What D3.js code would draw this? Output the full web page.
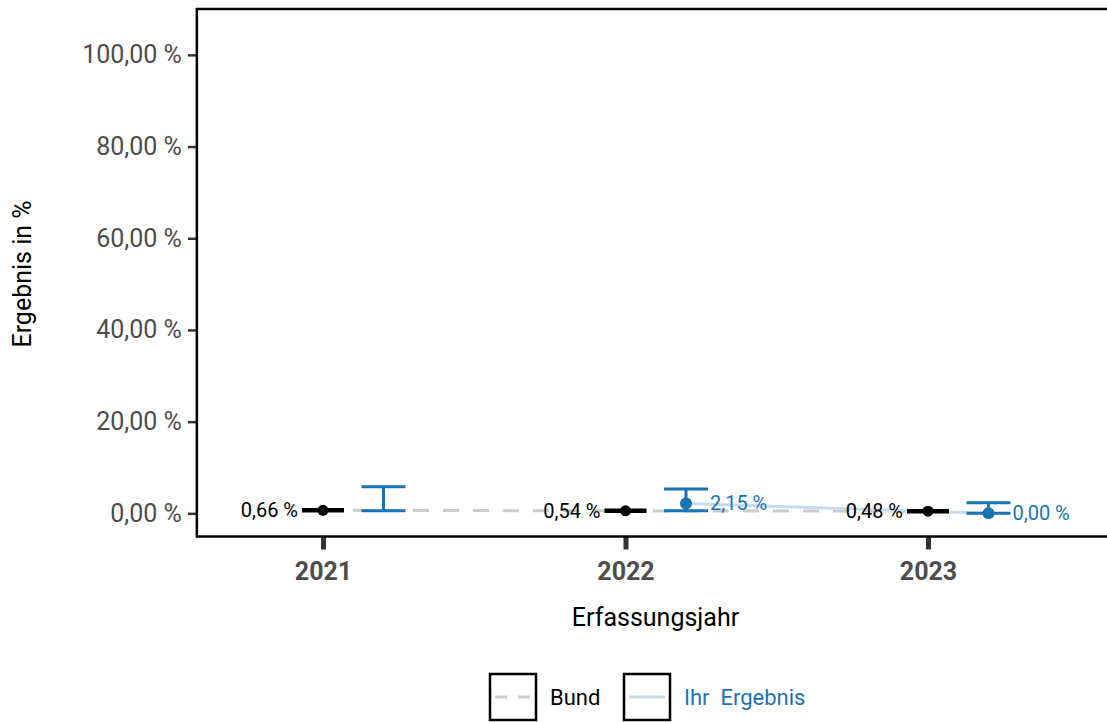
<!DOCTYPE html>
<html><head><meta charset="utf-8">
<script src="https://cdn.jsdelivr.net/npm/d3@7"></script>
<style>body{margin:0;background:#fff}svg{display:block;font-family:Roboto,"Noto Sans",sans-serif}</style>
</head><body><svg id="c" width="1107" height="722"></svg>
<script>
const years = [2021, 2022, 2023];
const bundValues = [0.66, 0.54, 0.48];
const ihrValues = [null, 2.15, 0.00];
const ihrLower = [0.57, 0.57, 0.0];
const ihrUpper = [5.8, 5.3, 2.3];
const yTicks = [0, 20, 40, 60, 80, 100];
const legendLabels = ["Bund", "Ihr  Ergebnis"];

const blue = "#1a73b5", lightBlue = "#c6dbef", grey = "#cccccc";
const fmtT = v => v.toFixed(2).replace(".", ",") + " %";

const svg = d3.select("#c");
const x = d3.scaleLinear().domain([2021, 2023]).range([323, 928]);
const y = d3.scaleLinear().domain([-5.05, 110]).range([536.5, 9]);
const dodge = 0.2;
const pLeft = x(2020.583), pRight = 1120, pTop = y(110), pBottom = y(-5.05);

// y axis
const ya = svg.append("g").attr("transform", `translate(${pLeft},0)`)
  .call(d3.axisLeft(y).tickValues(yTicks).tickFormat(fmtT).tickSize(9).tickPadding(6));
ya.select(".domain").remove();
ya.selectAll("line").attr("stroke", "#333").attr("stroke-width", 2.5);
ya.selectAll("text").attr("fill", "#4d4d4d").attr("font-size", 25).attr("font-family", "Roboto");

// x axis
const xa = svg.append("g").attr("transform", `translate(0,${pBottom})`)
  .call(d3.axisBottom(x).tickValues(years).tickFormat(d3.format("d")).tickSize(13).tickPadding(13));
xa.select(".domain").remove();
xa.selectAll("line").attr("stroke", "#333").attr("stroke-width", 5);
xa.selectAll("text").attr("fill", "#4d4d4d").attr("font-size", 25).attr("font-weight", "bold").attr("font-family", "Roboto");

// panel border
svg.append("path")
  .attr("d", `M${pRight},${pTop}H${pLeft}V${pBottom}H${pRight}`)
  .attr("fill", "none").attr("stroke", "#000").attr("stroke-width", 2.5);

// Bund dashed line
const bundPts = years.map((yr, i) => [x(yr), y(bundValues[i])]);
svg.append("path").attr("d", d3.line()(bundPts))
  .attr("fill", "none").attr("stroke", grey).attr("stroke-width", 3).attr("stroke-dasharray", "16,14");

// Ihr line
const ihrPts = years.map((yr, i) => ihrValues[i] == null ? null : [x(yr + dodge), y(ihrValues[i])]).filter(d => d);
svg.append("path").attr("d", d3.line()(ihrPts))
  .attr("fill", "none").attr("stroke", lightBlue).attr("stroke-width", 3);

// Bund segments
const segHalf = 21;
years.forEach((yr, i) => {
  const cx = x(yr), cy = y(bundValues[i]);
  svg.append("line").attr("x1", cx - segHalf).attr("x2", cx + segHalf).attr("y1", cy).attr("y2", cy)
    .attr("stroke", "#000").attr("stroke-width", 4.5);
  svg.append("circle").attr("cx", cx).attr("cy", cy).attr("r", 5.5).attr("fill", "#000");
  svg.append("text").attr("x", cx - segHalf - 4).attr("y", cy).attr("dy", "0.35em")
    .attr("text-anchor", "end").attr("font-size", 20).attr("fill", "#000").text(fmtT(bundValues[i]));
});

// Ihr error bars
const capHalf = 22;
years.forEach((yr, i) => {
  const cx = x(yr + dodge), yl = y(ihrLower[i]), yu = y(ihrUpper[i]);
  const g = svg.append("g").attr("stroke", blue).attr("stroke-width", 3);
  g.append("line").attr("x1", cx).attr("x2", cx).attr("y1", yl).attr("y2", yu);
  g.append("line").attr("x1", cx - capHalf).attr("x2", cx + capHalf).attr("y1", yl).attr("y2", yl);
  g.append("line").attr("x1", cx - capHalf).attr("x2", cx + capHalf).attr("y1", yu).attr("y2", yu);
  if (ihrValues[i] != null) {
    const cy = y(ihrValues[i]);
    svg.append("circle").attr("cx", cx).attr("cy", cy).attr("r", 6).attr("fill", blue);
    svg.append("text").attr("x", cx + capHalf + 2).attr("y", cy).attr("dy", "0.35em")
      .attr("font-size", 20).attr("fill", blue).text(fmtT(ihrValues[i]));
  }
});

// axis titles
svg.append("text").attr("x", 655.5).attr("y", 626).attr("text-anchor", "middle")
  .attr("font-size", 25).attr("fill", "#000").text("Erfassungsjahr");
svg.append("text").attr("transform", "translate(31,274) rotate(-90)").attr("text-anchor", "middle")
  .attr("font-size", 25).attr("fill", "#000").text("Ergebnis in %");

// legend
const lg = svg.append("g");
[490, 624].forEach((bx, i) => {
  lg.append("rect").attr("x", bx).attr("y", 674).attr("width", 46).attr("height", 46)
    .attr("fill", "#fff").attr("stroke", "#000").attr("stroke-width", 2.5);
  lg.append("line").attr("x1", bx + 5).attr("x2", bx + 41).attr("y1", 697).attr("y2", 697)
    .attr("stroke", i === 0 ? grey : lightBlue).attr("stroke-width", 3)
    .attr("stroke-dasharray", i === 0 ? "12,11" : null);
  lg.append("text").attr("x", bx + 60).attr("y", 697).attr("dy", "0.35em")
    .attr("font-size", 22).attr("fill", i === 0 ? "#000" : blue)
    .style("white-space", "pre").text(legendLabels[i]);
});
</script></body></html>
